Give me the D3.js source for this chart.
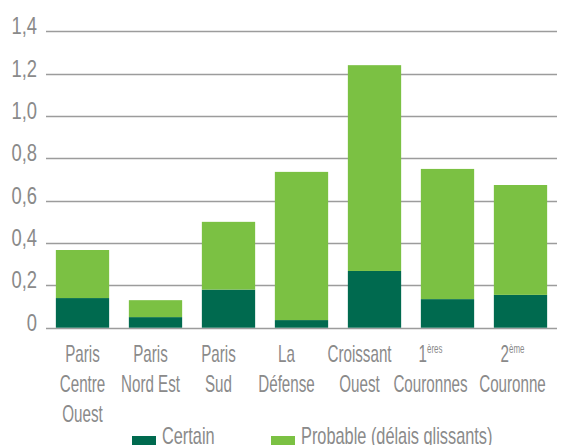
<!DOCTYPE html>
<html>
<head>
<meta charset="utf-8">
<script src="https://cdnjs.cloudflare.com/ajax/libs/d3/7.8.5/d3.min.js"></script>
<style>
  body { margin: 0; background: #fff; }
  text { font-family: "Liberation Sans Narrow", "Liberation Sans", sans-serif; fill: #8a8a8a; }
</style>
</head>
<body>
<div id="chart"></div>
<script>
'use strict';

// data
var categories = [
  ["Paris", "Centre", "Ouest"],
  ["Paris", "Nord Est"],
  ["Paris", "Sud"],
  ["La", "Défense"],
  ["Croissant", "Ouest"],
  ["1|ères", "Couronnes"],
  ["2|ème", "Couronne"]
];
var certain  = [0.14, 0.05, 0.18, 0.036, 0.268, 0.135, 0.155];
var probable = [0.227, 0.08, 0.32, 0.70, 0.972, 0.615, 0.519];
var yTicks   = [0, 0.2, 0.4, 0.6, 0.8, 1.0, 1.2, 1.4];
var seriesNames = ["Certain", "Probable (délais glissants)"];

var svgWidth = 569, svgHeight = 445;
var colors = ["#006a4f", "#7bc143"];
// labels in the original sit a little left of their bars
var labelNudge = [0, -5, -10, -15, -15, -17, -8];

var svg = d3.select("#chart").append("svg")
    .attr("width", svgWidth)
    .attr("height", svgHeight);

var keys = categories.map(function(d, i) { return i; });

var x = d3.scaleBand()
    .domain(keys)
    .range([46, 557])
    .paddingInner(0.27)
    .paddingOuter(0.135);

var y = d3.scaleLinear()
    .domain([0, 1.4])
    .range([327.7, 31.3]);

// gridlines
svg.append("g").selectAll("line")
    .data(yTicks)
    .enter().append("line")
    .attr("x1", 46).attr("x2", 557)
    .attr("y1", function(d) { return Math.round(y(d)) + 0.5; })
    .attr("y2", function(d) { return Math.round(y(d)) + 0.5; })
    .style("stroke", "#9c9c9c")
    .style("stroke-width", 1.6);

// y labels
svg.append("g").selectAll("text")
    .data(yTicks)
    .enter().append("text")
    .attr("transform", function(d) { return "translate(37," + (y(d) + 3) + ") scale(0.8,1)"; })
    .style("text-anchor", "end")
    .style("font-size", "23px")
    .text(function(d) { return d === 0 ? "0" : d3.format(".1f")(d).replace(".", ","); });

// stacked bars
var rows = keys.map(function(i) { return { key: i, certain: certain[i], probable: probable[i] }; });
var stack = d3.stack().keys(["certain", "probable"]);

svg.append("g").selectAll("g")
    .data(stack(rows))
    .enter().append("g")
    .style("fill", function(d, i) { return colors[i]; })
    .selectAll("rect")
    .data(function(d) { return d; })
    .enter().append("rect")
    .attr("x", function(d) { return x(d.data.key); })
    .attr("width", x.bandwidth())
    .attr("y", function(d) { return y(d[1]); })
    .attr("height", function(d) { return y(d[0]) - y(d[1]); });

// category labels
var lab = svg.append("g").selectAll("text")
    .data(categories)
    .enter().append("text")
    .attr("transform", function(d, i) {
        var cx = x(i) + x.bandwidth() / 2 + labelNudge[i];
        return "translate(" + cx + ",362) scale(0.66,1)";
    })
    .style("text-anchor", "middle")
    .style("font-size", "23px");

lab.each(function(lines) {
  var t = d3.select(this);
  lines.forEach(function(line, j) {
    var parts = line.split("|");
    t.append("tspan").attr("x", 0).attr("y", j * 30).text(parts[0]);
    if (parts[1]) {
      t.append("tspan").attr("dy", -9).style("font-size", "12px").text(parts[1]);
    }
  });
});

// legend
var legend = svg.append("g").selectAll("g")
    .data(seriesNames)
    .enter().append("g")
    .attr("transform", function(d, i) { return "translate(" + (132 + i * 139) + ",436)"; });

legend.append("rect")
    .attr("width", 24).attr("height", 12)
    .style("fill", function(d, i) { return colors[i]; });

legend.append("text")
    .attr("transform", "translate(30,8) scale(0.71,1)")
    .style("font-size", "23px")
    .text(function(d) { return d; });
</script>
</body>
</html>
